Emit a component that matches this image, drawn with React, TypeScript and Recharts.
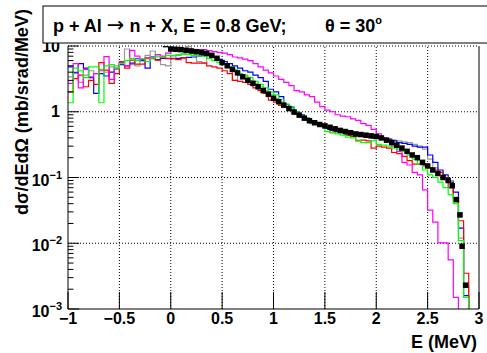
import { ComposedChart, Line, Scatter, XAxis, YAxis, ReferenceLine, Label } from 'recharts';

// bin lower edges, 0.05 MeV wide, from -1 to 3
const EDGES = Array.from({ length: 81 }, (_, i) => Math.round((-1 + i * 0.05) * 100) / 100);

const RED = [
  2.0, 3.2, 3.6, 2.4, 3.0, 2.6, 5.6, 4.3, 2.7, 3.8, 5.8, 4.6, 6.1, 5.3, 5.3, 6.6, 6.4, 6.1, 6.8, 6.5,
  6.4, 6.2, 6.6, 5.6, 5.5, 5.5, 5.5, 5.0, 4.8, 4.6, 4.2, 3.8, 3.0, 2.9, 2.8, 2.6, 2.3, 2.1, 1.9, 1.5,
  1.4, 1.25, 1.2, 1.05, 0.92, 0.84, 0.76, 0.7, 0.66, 0.62, 0.58, 0.48, 0.53, 0.5, 0.44, 0.42, 0.36, 0.37, 0.36, 0.28,
  0.3, 0.29, 0.28, 0.24, 0.23, 0.21, 0.18, 0.16, 0.16, 0.15, 0.14, 0.13, 0.12, 0.1, 0.07, 0.045, 0.022, 0.0035, 0.0005, 0.0005,
];
const GREEN = [
  1.37, 4.6, 4.2, 3.3, 4.8, 4.8, 1.37, 5.0, 5.2, 4.6, 5.4, 6.0, 6.5, 6.0, 6.4, 5.8, 6.6, 7.0, 6.8, 7.2,
  7.2, 7.4, 7.6, 7.4, 7.2, 7.0, 7.0, 6.5, 6.0, 5.6, 5.4, 4.8, 4.4, 3.8, 3.6, 3.3, 2.9, 2.6, 2.3, 2.0,
  1.8, 1.55, 1.3, 1.2, 1.0, 0.86, 0.8, 0.7, 0.66, 0.6, 0.5, 0.48, 0.46, 0.44, 0.41, 0.4, 0.37, 0.34, 0.34, 0.36,
  0.32, 0.31, 0.3, 0.28, 0.27, 0.25, 0.22, 0.19, 0.16, 0.13, 0.11, 0.1, 0.085, 0.07, 0.055, 0.04, 0.011, 0.0015, 0.0005, 0.0005,
];
const BLUE = [
  4.8, 3.9, 5.4, 4.6, 3.3, 1.9, 3.8, 3.5, 4.0, 4.5, 5.2, 5.0, 5.5, 6.4, 6.0, 4.6, 6.8, 6.2, 6.5, 6.4,
  6.4, 6.5, 6.6, 6.7, 6.8, 7.0, 7.2, 7.2, 6.8, 6.2, 5.8, 5.4, 5.0, 4.6, 4.2, 4.0, 3.6, 3.3, 2.9, 2.2,
  2.0, 1.7, 1.3, 1.15, 1.0, 0.9, 0.8, 0.72, 0.64, 0.6, 0.56, 0.52, 0.5, 0.48, 0.46, 0.45, 0.43, 0.42, 0.41, 0.4,
  0.4, 0.39, 0.38, 0.36, 0.34, 0.33, 0.32, 0.3, 0.29, 0.29, 0.22, 0.17, 0.13, 0.11, 0.085, 0.06, 0.017, 0.0016, 0.0005, 0.0005,
];
const MAGENTA = [
  2.7, 5.4, 2.3, 4.4, 3.4, 3.8, 4.2, 6.9, 3.1, 4.6, 5.6, 5.0, 8.6, 7.0, 6.2, 6.4, 6.8, 7.4, 7.0, 7.8,
  8.6, 8.8, 9.0, 9.0, 8.8, 8.8, 8.8, 8.5, 8.2, 8.0, 7.8, 7.4, 6.8, 6.6, 6.3, 6.0, 5.4, 4.8, 4.3, 3.9,
  3.5, 3.1, 2.8, 2.5, 2.1, 2.0, 1.8, 1.7, 1.4, 1.2, 1.06, 1.0, 0.9, 0.86, 0.84, 0.78, 0.74, 0.66, 0.62, 0.54,
  0.46, 0.4, 0.37, 0.3, 0.25, 0.17, 0.155, 0.12, 0.11, 0.065, 0.032, 0.021, 0.0101, 0.0101, 0.0056, 0.0015, 0.0005, 0.0005, 0.0005, 0.0005,
];
const GRAY = [
  3.4, 4.0, 2.8, 3.6, 4.2, 3.8, 4.4, 4.0, 4.8, 5.0, 5.5, 9.0, 5.2, 5.0, 6.4, 7.2, 8.4, 6.8, 5.2, 5.0,
  6.8, 7.2, 7.4, 9.8, 7.6, 5.8, 5.6, 7.0, 6.8, 6.4, 5.4, 4.8, 3.0, 3.6, 3.4, 3.0, 2.7, 2.4, 2.1, 1.8,
  1.6, 1.4, 1.2, 1.05, 0.92, 0.82, 0.74, 0.66, 0.64, 0.6, 0.57, 0.54, 0.5, 0.48, 0.47, 0.45, 0.44, 0.43, 0.42, 0.42,
  0.41, 0.4, 0.39, 0.37, 0.36, 0.35, 0.34, 0.32, 0.3, 0.27, 0.19, 0.14, 0.12, 0.1, 0.09, 0.05, 0.012, 0.0022, 0.0005, 0.0005,
];

// measured points (black squares)
const DATA_E = [
  -0.3, -0.25, -0.2, -0.15, -0.1, -0.05, 0, 0.05, 0.1, 0.15, 0.2, 0.25, 0.3, 0.35, 0.4, 0.45, 0.5, 0.55, 0.6, 0.65,
  0.7, 0.75, 0.8, 0.85, 0.9, 0.95, 1, 1.05, 1.1, 1.15, 1.2, 1.25, 1.3, 1.35, 1.4, 1.45, 1.5, 1.55, 1.6, 1.65,
  1.7, 1.75, 1.8, 1.85, 1.9, 1.95, 2, 2.05, 2.1, 2.15, 2.2, 2.25, 2.3, 2.35, 2.4, 2.45, 2.5, 2.55, 2.6, 2.65,
  2.7, 2.74, 2.78, 2.815, 2.835, 2.87,
];
const DATA_V = [
  13, 12, 11.5, 11, 11, 10.5, 9.0, 8.9, 8.8, 8.6, 8.4, 8.2, 8.0, 7.7, 7.2, 6.5, 5.6, 5.0, 4.4, 3.9,
  3.4, 3.0, 2.7, 2.4, 2.1, 1.85, 1.6, 1.42, 1.26, 1.12, 0.99, 0.89, 0.8, 0.73, 0.68, 0.64, 0.61, 0.58, 0.55, 0.52,
  0.5, 0.48, 0.46, 0.45, 0.44, 0.43, 0.42, 0.4, 0.37, 0.34, 0.31, 0.28, 0.25, 0.22, 0.2, 0.17, 0.15, 0.13, 0.115, 0.1,
  0.09, 0.075, 0.046, 0.027, 0.009, 0.0023,
];

const X_TICKS = [-1, -0.5, 0, 0.5, 1, 1.5, 2, 2.5, 3];
const X_GRID = [-0.5, 0, 0.5, 1, 1.5, 2, 2.5];
const Y_DECADES = [0.001, 0.01, 0.1, 1, 10];
const Y_TICKS = Y_DECADES.slice(0, 4).flatMap((d) => [1, 2, 3, 4, 5, 6, 7, 8, 9].map((m) => +(d * m).toPrecision(3))).concat([10]);
const Y_GRID = [0.01, 0.1, 1, 10];

const rows = EDGES.map((e, i) => {
  const j = Math.min(i, RED.length - 1);
  return { e, red: RED[j], green: GREEN[j], blue: BLUE[j], magenta: MAGENTA[j], gray: GRAY[j] };
});
const points = DATA_E.map((e, i) => ({ e, v: DATA_V[i] }));

const FONT = '"Liberation Sans", Arial, Helvetica, sans-serif';

function YTick({ x, y, payload }: any) {
  const v = payload.value;
  const lg = Math.log10(v);
  const k = Math.round(lg);
  const major = Math.abs(lg - k) < 1e-6;
  return (
    <g>
      <line x1={x} x2={x + (major ? 11 : 5.5)} y1={y} y2={y} stroke="#000" strokeWidth={1} />
      {major && k < 0 && (
        <text x={x - 6} y={y + 8} textAnchor="end" fontFamily={FONT} fontWeight="bold" fontSize={16} fill="#000">
          <tspan>10</tspan>
          <tspan dy={-7} fontSize={11}>{`\u2212${-k}`}</tspan>
        </text>
      )}
      {major && k >= 0 && (
        <text x={x - 8} y={y + 5.5} textAnchor="end" fontFamily={FONT} fontWeight="bold" fontSize={16} fill="#000">
          {k === 0 ? '1' : '10'}
        </text>
      )}
      {v === 10 && (
        <g>
          <rect x={43} y={6} width={470} height={37} fill="#fff" stroke="#000" strokeWidth={1} />
          <text x={53} y={32} fontFamily={FONT} fontWeight="bold" fontSize={18} fill="#000">
            <tspan>{'p + Al '}</tspan>
            <tspan fontFamily='"DejaVu Sans", sans-serif' fontWeight="normal" fontSize={21}>
              {'\u2192'}
            </tspan>
            <tspan>{' n + X, E = 0.8 GeV;'}</tspan>
          </text>
          <text x={325} y={32} fontFamily={FONT} fontWeight="bold" fontSize={18} fill="#000">
            <tspan>{'\u03b8 = 30'}</tspan>
            <tspan dy={-8} fontSize={11}>o</tspan>
          </text>
        </g>
      )}
    </g>
  );
}

function XTick({ x, y, payload }: any) {
  const v = payload.value;
  const label = v < 0 ? `\u2212${Math.abs(v)}` : `${v}`;
  return (
    <g>
      <line x1={x} x2={x} y1={y} y2={y - 17} stroke="#000" strokeWidth={1} />
      <text x={x} y={y + 15} textAnchor="middle" fontFamily={FONT} fontWeight="bold" fontSize={16} fill="#000">
        {label}
      </text>
    </g>
  );
}

const square = (p: any) => <rect x={p.cx - 2.75} y={p.cy - 2.75} width={5.5} height={5.5} fill="#000" />;

export default function App() {
  return (
    <div style={{ position: 'absolute', left: 0, top: 0, width: 487, height: 353, background: '#fff' }}>
      <ComposedChart width={487} height={353} data={rows} margin={{ top: 46, right: 8, left: 0, bottom: 0 }}>
        {X_GRID.map((g) => (
          <ReferenceLine key={'x' + g} x={g} stroke="#000" strokeDasharray="1 2" />
        ))}
        {Y_GRID.map((g) => (
          <ReferenceLine key={'y' + g} y={g} stroke="#000" strokeDasharray="1 2" />
        ))}
        <ReferenceLine x={3} stroke="#000" />
        <XAxis
          dataKey="e"
          type="number"
          domain={[-1, 3]}
          ticks={X_TICKS}
          interval={0}
          allowDataOverflow
          height={44}
          tickSize={0}
          tickMargin={0}
          tickLine={false}
          axisLine={{ stroke: '#000' }}
          tick={<XTick />}
        >
          <Label
            content={() => (
              <text x={477} y={348} textAnchor="end" fontFamily={FONT} fontWeight="bold" fontSize={18} fill="#000">
                E (MeV)
              </text>
            )}
          />
        </XAxis>
        <YAxis
          type="number"
          scale="log"
          domain={[0.001, 10]}
          ticks={Y_TICKS}
          interval={0}
          allowDataOverflow
          width={68}
          tickSize={0}
          tickMargin={0}
          tickLine={false}
          axisLine={{ stroke: '#000' }}
          tick={<YTick />}
        >
          <Label
            content={() => (
              <text
                x={22}
                y={112}
                transform="rotate(-90 22 112)"
                textAnchor="middle"
                dominantBaseline="central"
                fontFamily={FONT}
                fontWeight="bold"
                fontSize={18}
                fill="#000"
              >
                {'d\u03c3/dEd\u03a9 (mb/srad/MeV)'}
              </text>
            )}
          />
        </YAxis>
        <Line type="stepAfter" dataKey="gray" stroke="#999999" strokeWidth={1.2} dot={false} isAnimationActive={false} />
        <Line type="stepAfter" dataKey="blue" stroke="#0000ff" strokeWidth={1.2} dot={false} isAnimationActive={false} />
        <Line type="stepAfter" dataKey="red" stroke="#ff0000" strokeWidth={1.2} dot={false} isAnimationActive={false} />
        <Line type="stepAfter" dataKey="magenta" stroke="#ff00ff" strokeWidth={1.2} dot={false} isAnimationActive={false} />
        <Line type="stepAfter" dataKey="green" stroke="#00ff00" strokeWidth={1.2} dot={false} isAnimationActive={false} />
        <Scatter data={points} dataKey="v" fill="#000" shape={square} isAnimationActive={false} />
      </ComposedChart>
    </div>
  );
}
